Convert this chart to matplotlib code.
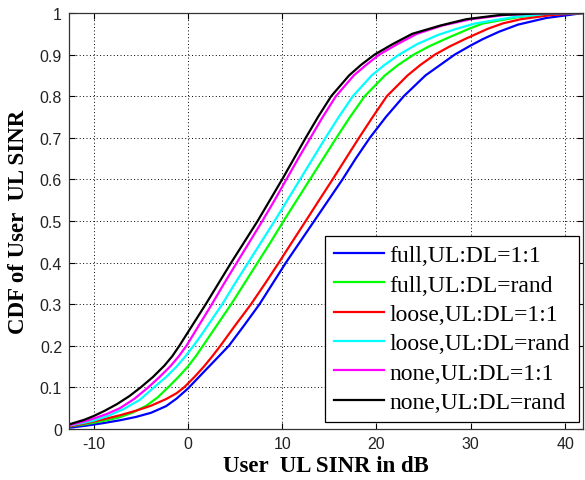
import matplotlib
matplotlib.use("Agg")
import matplotlib.pyplot as plt

plt.rcParams["axes.unicode_minus"] = False

# CDF curves (x in dB, y = CDF)
full_11_x = [-12.6, -10.8, -9.0, -7.2, -5.5, -3.9, -2.3, -1.2, 0.0, 1.6, 3.0, 4.35, 6.0, 7.6, 9.0,
             10.4, 11.9, 13.4, 14.9, 16.4, 17.8, 19.3, 21.0, 22.9, 25.2, 28.3, 30.0, 31.3, 33.0,
             35.0, 38.0, 40.0, 41.9]
full_11_y = [0.003, 0.008, 0.014, 0.021, 0.029, 0.039, 0.055, 0.073, 0.097, 0.135, 0.168, 0.20, 0.25,
             0.30, 0.35, 0.40, 0.45, 0.50, 0.55, 0.60, 0.65, 0.70, 0.75, 0.80, 0.85, 0.90, 0.922,
             0.9375, 0.955, 0.972, 0.988, 0.994, 1.0]

full_rand_x = [-12.6, -11.0, -10.0, -8.6, -7.25, -5.8, -4.4, -3.2, -2.1, -1.0, 0.0, 0.85, 1.6, 3.1,
               4.6, 6.0, 7.4, 8.8, 10.15, 11.55, 12.95, 14.35, 15.75, 17.2, 18.75, 20.9, 22.3, 23.95,
               25.6, 27.3, 29.8, 31.3, 35.0, 38.0, 41.9]
full_rand_y = [0.006, 0.011, 0.015, 0.021, 0.028, 0.04, 0.056, 0.076, 0.10, 0.125, 0.15, 0.175, 0.20,
               0.25, 0.30, 0.35, 0.40, 0.45, 0.50, 0.55, 0.60, 0.65, 0.70, 0.75, 0.80, 0.85, 0.875,
               0.90, 0.92, 0.9375, 0.962, 0.975, 0.99, 0.997, 1.0]

loose_11_x = [-12.6, -10.8, -9.0, -7.2, -5.5, -3.9, -2.3, -1.2, -0.4, 0.7, 1.7, 2.6, 3.45, 5.05,
              6.7, 8.2, 9.65, 11.07, 12.5, 13.92, 15.35, 16.75, 18.15, 19.6, 21.1, 23.3, 24.65, 26.2,
              27.8, 29.4, 31.8, 33.4, 35.3, 38.5, 41.9]
loose_11_y = [0.006, 0.014, 0.023, 0.033, 0.044, 0.056, 0.072, 0.086, 0.10, 0.125, 0.15, 0.175, 0.20,
              0.25, 0.30, 0.35, 0.40, 0.45, 0.50, 0.55, 0.60, 0.65, 0.70, 0.75, 0.80, 0.85, 0.875,
              0.90, 0.92, 0.9375, 0.962, 0.975, 0.985, 0.995, 1.0]

loose_rand_x = [-12.6, -11.0, -10.0, -8.4, -6.8, -5.1, -3.6, -2.3, -1.2, -0.25, 0.6, 1.4, 2.15,
                3.65, 5.0, 6.4, 7.8, 9.2, 10.55, 11.9, 13.25, 14.6, 16.0, 17.5, 19.5, 20.85, 22.4,
                24.3, 26.5, 28.5, 30.5, 34.5, 38.0, 41.9]
loose_rand_y = [0.008, 0.015, 0.02, 0.032, 0.048, 0.07, 0.10, 0.125, 0.15, 0.175, 0.20, 0.225, 0.25,
                0.30, 0.35, 0.40, 0.45, 0.50, 0.55, 0.60, 0.65, 0.70, 0.75, 0.80, 0.85, 0.875, 0.90,
                0.925, 0.947, 0.962, 0.975, 0.99, 0.998, 1.0]

none_11_x = [-12.6, -11.0, -10.0, -8.6, -7.2, -5.7, -4.2, -3.0, -1.8, -0.95, -0.15, 1.2, 2.55, 3.85,
             5.2, 6.55, 7.9, 9.2, 10.45, 11.7, 13.0, 14.3, 15.7, 17.6, 18.9, 20.3, 22.2, 24.3, 27.0,
             30.0, 33.5, 37.0, 41.9]
none_11_y = [0.009, 0.018, 0.025, 0.036, 0.05, 0.072, 0.10, 0.125, 0.152, 0.175, 0.20, 0.25, 0.30,
             0.35, 0.40, 0.45, 0.50, 0.55, 0.60, 0.65, 0.70, 0.75, 0.80, 0.85, 0.875, 0.90, 0.925,
             0.95, 0.97, 0.985, 0.995, 0.999, 1.0]

none_rand_x = [-12.6, -11.0, -10.0, -8.8, -7.5, -6.2, -5.0, -3.7, -2.5, -1.65, -0.9, 0.5, 1.9, 3.25,
               4.6, 6.0, 7.4, 8.7, 10.0, 11.25, 12.5, 13.8, 15.2, 17.1, 18.35, 19.8, 21.7, 23.8,
               26.8, 29.5, 33.0, 37.0, 41.9]
none_rand_y = [0.011, 0.022, 0.031, 0.044, 0.06, 0.079, 0.10, 0.125, 0.152, 0.175, 0.20, 0.25, 0.30,
               0.35, 0.40, 0.45, 0.50, 0.55, 0.60, 0.65, 0.70, 0.75, 0.80, 0.85, 0.875, 0.90, 0.925,
               0.95, 0.97, 0.985, 0.995, 0.999, 1.0]

labels = ["full,UL:DL=1:1", "full,UL:DL=rand", "loose,UL:DL=1:1",
          "loose,UL:DL=rand", "none,UL:DL=1:1", "none,UL:DL=rand"]
colors = ["#0000ff", "#00ff00", "#ff0000", "#00ffff", "#ff00ff", "#000000"]

xticks = [-10, 0, 10, 20, 30, 40]
yticks = [0, 0.1, 0.2, 0.3, 0.4, 0.5, 0.6, 0.7, 0.8, 0.9, 1]
yticklabels = ["0", "0.1", "0.2", "0.3", "0.4", "0.5", "0.6", "0.7", "0.8", "0.9", "1"]

series = [(full_11_x, full_11_y), (full_rand_x, full_rand_y),
          (loose_11_x, loose_11_y), (loose_rand_x, loose_rand_y),
          (none_11_x, none_11_y), (none_rand_x, none_rand_y)]

fig = plt.figure(figsize=(5.85, 4.81), dpi=100, facecolor="white")
ax = fig.add_axes([69/585, 51/481, 514/585, 416/481])

for (xs, ys), c, lab in zip(series, colors, labels):
    ax.plot(xs, ys, color=c, lw=1.6, label=lab)

ax.set_xlim(-12.6, 41.9)
ax.set_ylim(0, 1)
ax.set_xticks(xticks)
ax.set_yticks(yticks)
ax.set_yticklabels(yticklabels)
ax.grid(True, color="black", ls=(0, (1, 2.5)), lw=0.7)
ax.tick_params(direction="in", top=True, right=True, length=4, width=0.8,
               labelsize=11.5, pad=5)
for lbl in ax.get_xticklabels() + ax.get_yticklabels():
    lbl.set_fontfamily("Liberation Sans")
    lbl.set_color("#222222")
for sp in ax.spines.values():
    sp.set_linewidth(0.9)
    sp.set_color("#333333")

ax.set_xlabel("User  UL SINR in dB", fontfamily="Liberation Serif",
              fontweight="bold", fontsize=16.5, labelpad=3)
ax.set_ylabel("CDF of User  UL SINR", fontfamily="Liberation Serif",
              fontweight="bold", fontsize=16.5, labelpad=8)

leg = ax.legend(loc="lower right", bbox_to_anchor=(0.992, 0.017),
                borderaxespad=0, fancybox=False, framealpha=1,
                edgecolor="black", handlelength=2.1, handletextpad=0.25,
                labelspacing=0.33, borderpad=0.38,
                prop={"family": "Liberation Serif", "size": 17})
leg.get_frame().set_linewidth(0.9)

fig.savefig("out.png", dpi=100)
